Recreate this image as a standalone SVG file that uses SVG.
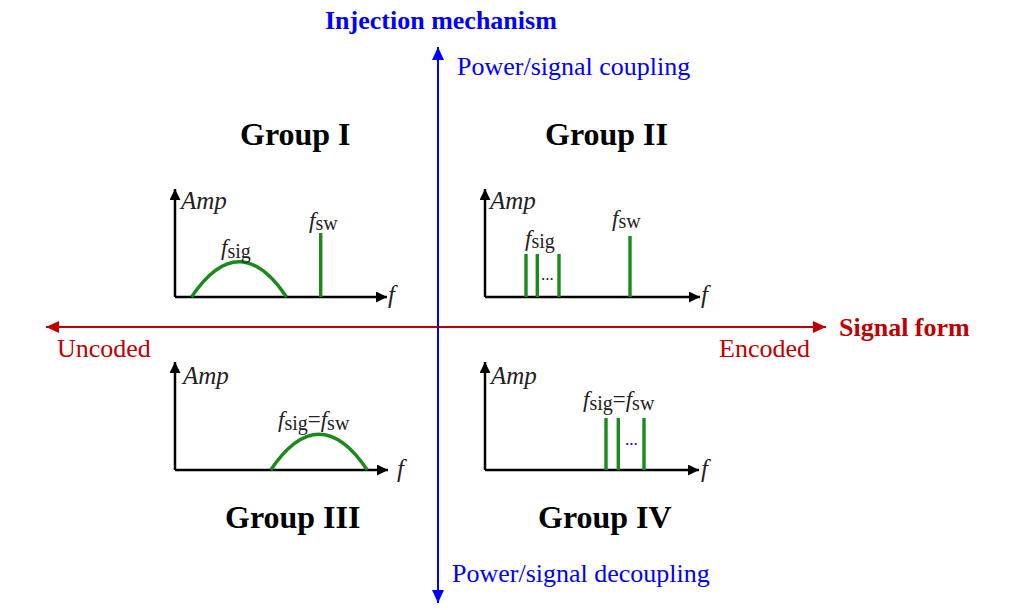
<svg xmlns="http://www.w3.org/2000/svg" width="1013" height="610" viewBox="0 0 1013 610">
<defs>
<marker id="ab" markerUnits="userSpaceOnUse" markerWidth="11" markerHeight="11" refX="11" refY="5.5" orient="auto"><path d="M0,0 L11,5.5 L0,11 z" fill="#000"/></marker>
<marker id="ar" markerUnits="userSpaceOnUse" markerWidth="13" markerHeight="12" refX="13" refY="6" orient="auto"><path d="M0,0 L13,6 L0,12 z" fill="#c00000"/></marker>
<marker id="au" markerUnits="userSpaceOnUse" markerWidth="13" markerHeight="12" refX="13" refY="6" orient="auto"><path d="M0,0 L13,6 L0,12 z" fill="#0000ff"/></marker>
</defs>
<style>
text{font-family:"Liberation Serif","Times New Roman",serif}
.ax{stroke:#000;stroke-width:2.5;fill:none;marker-end:url(#ab)}
.g{stroke:#1a8a1a;stroke-width:3.4;fill:none}
.lab{font-size:25px;font-style:italic;fill:#222}
.fi{font-style:italic;font-size:23px}
.sb{font-size:20px}
.grp{font-size:32px;font-weight:bold;fill:#000}
.blue{fill:#0000ff;font-size:26px}
.red{fill:#c00000;font-size:26px}
.bold{font-weight:bold}
.ft{fill:#222}
</style>
<rect width="1013" height="610" fill="#fff"/>
<g id="connectors">
<line x1="438" y1="327" x2="46" y2="327" stroke="#c00000" stroke-width="2" marker-end="url(#ar)"/>
<line x1="438" y1="327" x2="826" y2="327" stroke="#c00000" stroke-width="2" marker-end="url(#ar)"/>
<line x1="438" y1="327" x2="438" y2="47" stroke="#0000ff" stroke-width="2" marker-end="url(#au)"/>
<line x1="438" y1="327" x2="438" y2="603" stroke="#0000ff" stroke-width="2" marker-end="url(#au)"/>
</g>
<g id="axis-labels">
<text x="325" y="29" class="blue bold">Injection mechanism</text>
<text x="457" y="75" class="blue">Power/signal coupling</text>
<text x="452" y="582" class="blue">Power/signal decoupling</text>
<text x="839" y="336" class="red bold">Signal form</text>
<text x="57" y="357" class="red">Uncoded</text>
<text x="719" y="357" class="red">Encoded</text>
</g>
<g id="group1">
<text x="240" y="145" class="grp">Group I</text>
<line x1="175" y1="297" x2="175" y2="189" class="ax"/>
<line x1="175" y1="297" x2="387" y2="297" class="ax"/>
<text x="181" y="209" class="lab">Amp</text>
<text x="388" y="303" class="lab">f</text>
<path d="M191.5,297 Q239,226.4 286.5,297" class="g"/>
<line x1="320.7" y1="233" x2="320.7" y2="297" class="g"/>
<text x="221" y="255" class="ft"><tspan class="fi">f</tspan><tspan class="sb" dy="3">sig</tspan></text>
<text x="309" y="228" class="ft"><tspan class="fi">f</tspan><tspan class="sb" dy="2">sw</tspan></text>
</g>
<g id="group2">
<text x="545" y="145" class="grp">Group II</text>
<line x1="485" y1="297" x2="485" y2="189" class="ax"/>
<line x1="485" y1="297" x2="700" y2="297" class="ax"/>
<text x="490" y="209" class="lab">Amp</text>
<text x="701" y="303" class="lab">f</text>
<line x1="526" y1="254" x2="526" y2="297" class="g"/>
<line x1="537.3" y1="254" x2="537.3" y2="297" class="g"/>
<line x1="559" y1="254" x2="559" y2="297" class="g"/>
<line x1="630" y1="236" x2="630" y2="297" class="g"/>
<text x="525" y="246" class="ft"><tspan class="fi">f</tspan><tspan class="sb" dy="2">sig</tspan></text>
<text x="541" y="280" class="ft" font-size="17">...</text>
<text x="612" y="226" class="ft"><tspan class="fi">f</tspan><tspan class="sb" dy="2">sw</tspan></text>
</g>
<g id="group3">
<text x="225" y="528" class="grp">Group III</text>
<line x1="175" y1="470" x2="175" y2="362" class="ax"/>
<line x1="175" y1="470" x2="388" y2="470" class="ax"/>
<text x="183" y="384" class="lab">Amp</text>
<text x="397" y="477" class="lab">f</text>
<path d="M270.7,470 Q319,398.6 367.3,470" class="g"/>
<text x="278" y="427" class="ft"><tspan class="fi">f</tspan><tspan class="sb" dy="3">sig</tspan><tspan font-size="23" dy="-3">=</tspan><tspan class="fi">f</tspan><tspan class="sb" dy="3">sw</tspan></text>
</g>
<g id="group4">
<text x="538" y="528" class="grp">Group IV</text>
<line x1="485" y1="470" x2="485" y2="362" class="ax"/>
<line x1="485" y1="470" x2="699" y2="470" class="ax"/>
<text x="491" y="384" class="lab">Amp</text>
<text x="701" y="477" class="lab">f</text>
<line x1="606" y1="418" x2="606" y2="470" class="g"/>
<line x1="618.3" y1="418" x2="618.3" y2="470" class="g"/>
<line x1="644" y1="418" x2="644" y2="470" class="g"/>
<text x="583" y="407" class="ft"><tspan class="fi">f</tspan><tspan class="sb" dy="3">sig</tspan><tspan font-size="23" dy="-3">=</tspan><tspan class="fi">f</tspan><tspan class="sb" dy="3">sw</tspan></text>
<text x="625" y="445" fill="#0000ff" font-size="17">...</text>
</g>
</svg>
